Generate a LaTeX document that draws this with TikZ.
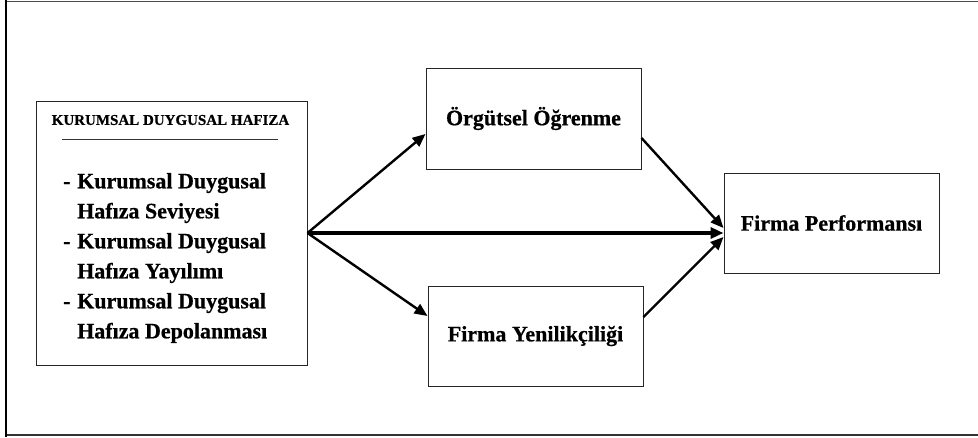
\documentclass[tikz,border=0pt]{standalone}
\usepackage{fontspec}
\setmainfont{Liberation Serif}[BoldFeatures={FakeBold=0.6}]
\usetikzlibrary{arrows.meta}
\begin{document}
\begin{tikzpicture}[x=1pt,y=-1pt,
  box/.style={draw=black!85,line width=1pt,rectangle,inner sep=0pt,
    font=\bfseries\fontsize{22}{30}\selectfont},
  link/.style={line width=2.4pt,-{Triangle[length=13pt,width=11pt]}},
  mainlink/.style={line width=3.4pt,-{Triangle[length=13pt,width=11pt]}}]
\useasboundingbox (0,0) rectangle (978,437);
% frame
\draw[black!70,line width=1.5pt] (6,1.5) -- (978,1.5);
\draw[black!80,line width=1.5pt] (6,435) -- (978,435);
\draw[black,line width=2.2pt] (6,0) -- (6,437);

% left block
\node[box,minimum width=271pt,minimum height=264pt] (L) at (171.5,233) {};
\node[font=\bfseries\fontsize{15}{18}\selectfont] (Lhead) at (170.5,120) {KURUMSAL DUYGUSAL HAFIZA};
\draw[black!80,line width=1pt] (62,139) -- (278,139);
\node[anchor=west,align=left,inner sep=0pt,font=\bfseries\fontsize{22}{30}\selectfont] (Llist) at (63,258)
  {\makebox[14pt][l]{-}Kurumsal Duygusal\\
   \hspace*{14pt}Hafıza Seviyesi\\
   \makebox[14pt][l]{-}Kurumsal Duygusal\\
   \hspace*{14pt}Hafıza Yayılımı\\
   \makebox[14pt][l]{-}Kurumsal Duygusal\\
   \hspace*{14pt}Hafıza Depolanması};

% mediators and outcome
\node[box,minimum width=215pt,minimum height=101pt] (O) at (533.5,118.5) {Örgütsel Öğrenme};
\node[box,minimum width=215pt,minimum height=100pt] (Y) at (535.5,336) {Firma Yenilikçiliği};
\node[box,minimum width=215pt,minimum height=100pt] (P) at (831.5,223) {Firma Performansı};

% paths
\draw[link] (L.east) -- ([yshift=-15.5pt]O.west);
\draw[link] (L.east) -- ([yshift=20pt]Y.west);
\draw[mainlink] (L.east) -- (L.east -| P.west);
\draw[link] ([yshift=-19.5pt]O.east) -- ([yshift=-5pt]P.west);
\draw[link] ([yshift=19pt]Y.east) -- ([yshift=-14pt]P.west);
\end{tikzpicture}
\end{document}
